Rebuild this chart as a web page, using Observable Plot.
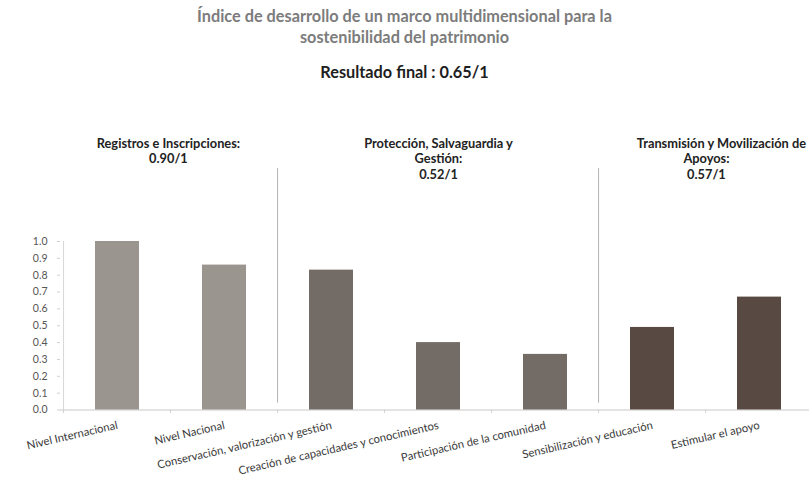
<!DOCTYPE html>
<html>
<head>
<meta charset="utf-8">
<script src="https://cdn.jsdelivr.net/npm/d3@7"></script>
<script src="https://cdn.jsdelivr.net/npm/@observablehq/plot@0.6"></script>
<style>
  html, body { margin: 0; padding: 0; background: #fff; }
  body { width: 809px; height: 482px; overflow: hidden; font-family: Lato, "Open Sans", sans-serif; }
  #head { height: 82px; box-sizing: border-box; padding-top: 5px; text-align: center; }
  #title { font-size: 16.3px; font-weight: bold; color: #7c7c7c; line-height: 21px; }
  #sub { font-size: 16.3px; font-weight: bold; color: #1e1e1e; line-height: 21px; margin-top: 14px; }
  #chart svg { display: block; }
</style>
</head>
<body>
<div id="head">
  <div id="title">Índice de desarrollo de un marco multidimensional para la<br>sostenibilidad del patrimonio</div>
  <div id="sub">Resultado final : 0.65/1</div>
</div>
<div id="chart"></div>
<script>
const categories = [
  "Nivel Internacional",
  "Nivel Nacional",
  "Conservación, valorización y gestión",
  "Creación de capacidades y conocimientos",
  "Participación de la comunidad",
  "Sensibilización y educación",
  "Estimular el apoyo"
];
const values = [1.0, 0.86, 0.83, 0.40, 0.33, 0.49, 0.67];
const groupOf = [0, 0, 1, 1, 1, 2, 2];
const groupTitles = [
  ["Registros e Inscripciones:"],
  ["Protección, Salvaguardia y", "Gestión:"],
  ["Transmisión y Movilización de", "Apoyos:"]
];
const groupScores = ["0.90/1", "0.52/1", "0.57/1"];
const groupColors = ["#9a958f", "#736b65", "#584943"];
const yTicks = [0.0, 0.1, 0.2, 0.3, 0.4, 0.5, 0.6, 0.7, 0.8, 0.9, 1.0];

const data = categories.map((c, i) => ({cat: c, value: values[i], group: groupOf[i]}));

const xLeft = 60, xRight = 815;
const step = (xRight - xLeft) / categories.length;

const groupAnchors = [
  {cat: categories[0], dx: step / 2 - 3},
  {cat: categories[3], dx: 0},
  {cat: categories[5], dx: step / 2}
];
const headerLines = [];
groupTitles.forEach((lines, g) => {
  const all = lines.concat([groupScores[g]]);
  all.forEach((t, j) => {
    let dx = groupAnchors[g].dx;
    if (g === 2 && j === 0) dx += 15;
    headerLines.push({cat: groupAnchors[g].cat, text: t, dx, dy: -98 + 15.6 * j});
  });
});

document.getElementById("chart").append(Plot.plot({
  width: 809,
  height: 400,
  marginTop: 159,
  marginBottom: 72.5,
  marginLeft: 60,
  marginRight: 0,
  style: {fontFamily: "Lato, 'Open Sans', sans-serif", background: "transparent"},
  x: {domain: categories, range: [xLeft, xRight], paddingInner: 0.59, paddingOuter: 0.295},
  y: {domain: [0, 1]},
  color: {type: "categorical", domain: [0, 1, 2], range: groupColors},
  marks: [
    Plot.ruleY([0], {stroke: "#c8c8c8"}),
    Plot.ruleX([categories[0]], {x: d => d, dx: -step / 2, y1: 0, y2: 1, stroke: "#d6d6d6"}),
    Plot.ruleX(categories, {x: d => d, dx: -step / 2, y1: 0, y2: -0.02, stroke: "#d0d0d0"}),
    Plot.barY(data, {x: "cat", y: "value", fill: "group"}),
    Plot.ruleX([categories[2], categories[5]], {x: d => d, dx: -step / 2, y1: 0.04, y2: 1.433, stroke: "#b4b4b4", strokeWidth: 1}),
    Plot.axisY(yTicks, {tickFormat: d3.format(".1f"), fontSize: 10.5, tickSize: 3, tickPadding: 10, stroke: "#d0d0d0", fill: "#555", label: null}),
    Plot.axisX({tickRotate: -13, tickSize: 0, tickPadding: 15, fontSize: 11.3, fill: "#3a3a3a", label: null}),
    ...headerLines.map(h => Plot.text([h], {
      x: "cat", text: "text", dx: h.dx, dy: h.dy, frameAnchor: "top", lineAnchor: "middle",
      fontSize: 12.8, fontWeight: "bold", fill: "#222"
    }))
  ]
}));
</script>
</body>
</html>
